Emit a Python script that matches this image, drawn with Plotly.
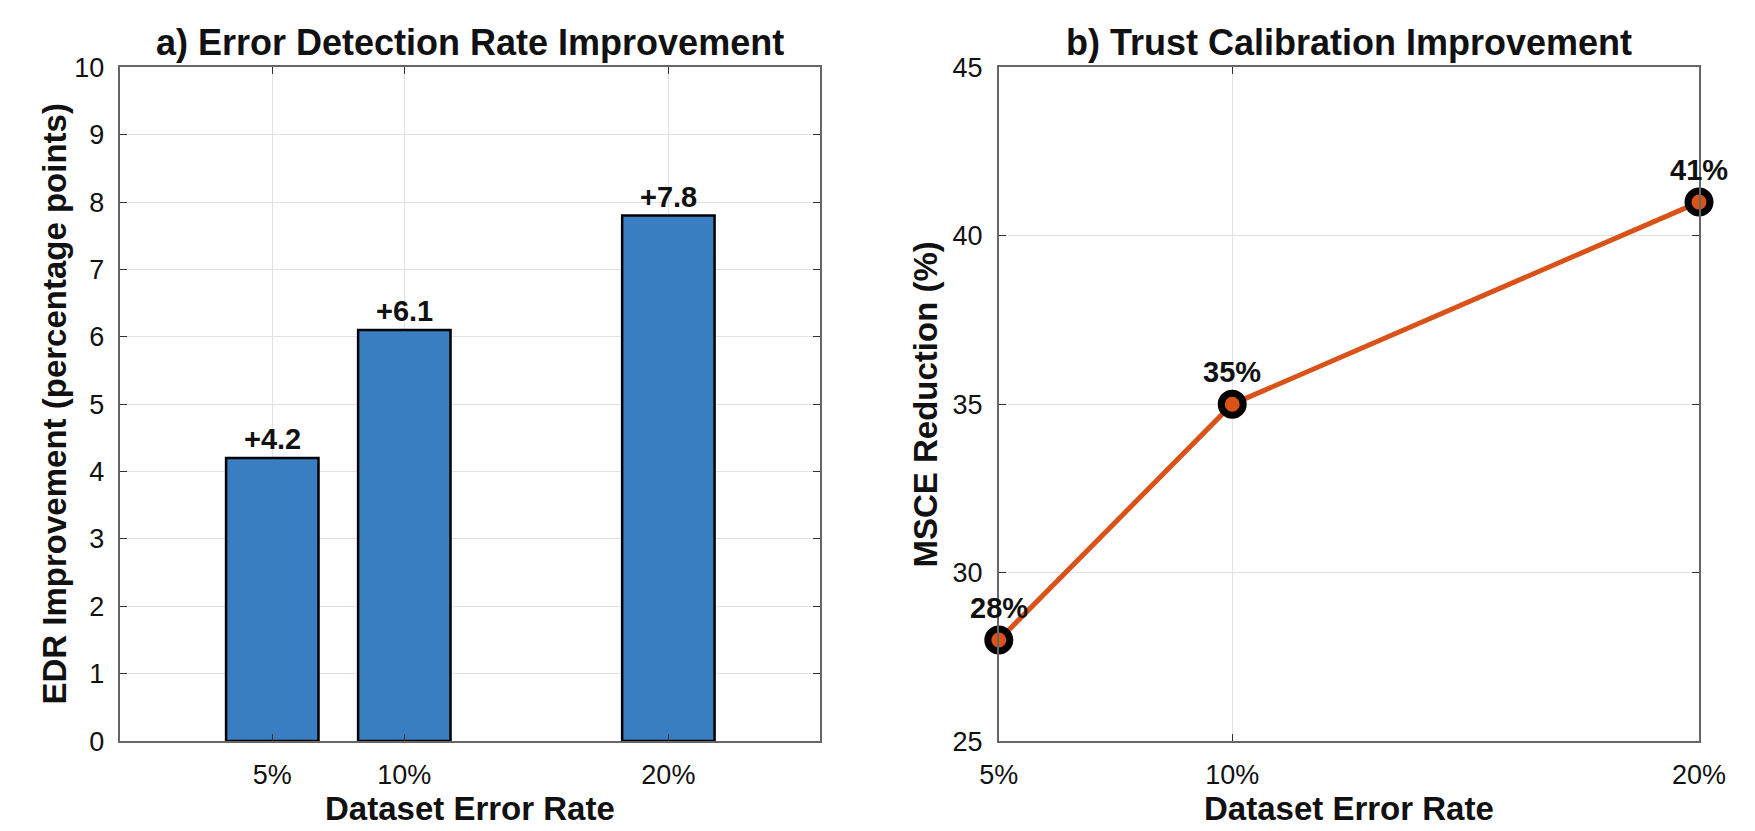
import plotly.graph_objects as go

# ---- data ----
error_rates = [5, 10, 20]
tick_labels = ["5%", "10%", "20%"]
edr_improvement = [4.2, 6.1, 7.8]
msce_reduction = [28, 35, 41]
edr_ticks = list(range(0, 11))
msce_ticks = [25, 30, 35, 40, 45]

title_a = "a) Error Detection Rate Improvement"
title_b = "b) Trust Calibration Improvement"
xlabel = "Dataset Error Rate"
ylabel_a = "EDR Improvement (percentage points)"
ylabel_b = "MSCE Reduction (%)"

W, H = 1755, 831
FONT = "Liberation Sans, Arial, Helvetica, sans-serif"
BAR_COLOR = "#3A7EC2"
LINE_COLOR = "#D95319"

# layout in pixels
ax1_l, ax1_r = 95, 814
ax2_l, ax2_r = 997.5, 1717
ax_t, ax_b = 46, 745


def fx(p):
    return p / W


def fy(p):
    return 1 - p / H


fig = go.Figure()
fig.add_trace(go.Bar(
    x=error_rates, y=edr_improvement, width=3.5,
    marker=dict(color=BAR_COLOR, line=dict(color="black", width=2.5)),
    xaxis="x", yaxis="y", showlegend=False, hoverinfo="skip",
))
fig.add_trace(go.Scatter(
    x=error_rates, y=msce_reduction, mode="lines+markers",
    line=dict(color=LINE_COLOR, width=5),
    marker=dict(size=22, color=LINE_COLOR, line=dict(color="black", width=7)),
    xaxis="x2", yaxis="y2", showlegend=False, cliponaxis=False, hoverinfo="skip",
))

common = dict(
    showline=True, linecolor="#666666", linewidth=1.5, mirror="ticks",
    ticks="inside", ticklen=7, tickcolor="#333333", tickwidth=1.2,
    showgrid=True, gridcolor="#E2E2E2", gridwidth=1, zeroline=False,
    tickfont=dict(family=FONT, size=27, color="#111111"),
    fixedrange=True,
)

fig.update_layout(
    width=W, height=H,
    margin=dict(l=0, r=0, t=0, b=0),
    paper_bgcolor="white", plot_bgcolor="white",
    xaxis=dict(domain=[fx(ax1_l), fx(ax1_r)], range=[-0.75, 25.75],
               tickvals=error_rates, ticktext=tick_labels, anchor="y",
               ticklabelstandoff=9, **common),
    yaxis=dict(domain=[fy(ax_b), fy(ax_t)], range=[0, 10],
               tickvals=edr_ticks, anchor="x", ticklabelstandoff=9, **common),
    xaxis2=dict(domain=[fx(ax2_l), fx(ax2_r)], range=[5, 20],
                tickvals=error_rates, ticktext=tick_labels, anchor="y2",
                ticklabelstandoff=9, **common),
    yaxis2=dict(domain=[fy(ax_b), fy(ax_t)], range=[25, 45],
                tickvals=msce_ticks, anchor="x2", ticklabelstandoff=9, **common),
)

annotations = []
bold = dict(family=FONT, color="#111111", weight="bold")

# titles and x labels
for txt, l, r in [(title_a, ax1_l, ax1_r), (title_b, ax2_l, ax2_r)]:
    annotations.append(dict(text=txt, xref="paper", yref="paper",
                            x=fx((l + r) / 2), y=fy(ax_t), xanchor="center",
                            yanchor="bottom", yshift=2, showarrow=False,
                            font=dict(size=36, **bold)))
    annotations.append(dict(text=xlabel, xref="paper", yref="paper",
                            x=fx((l + r) / 2), y=0, xanchor="center",
                            yanchor="bottom", yshift=-5, showarrow=False,
                            font=dict(size=33, **bold)))

# y labels
for txt, xc in [(ylabel_a, 27), (ylabel_b, 922)]:
    annotations.append(dict(text=txt, xref="paper", yref="paper",
                            x=fx(xc), y=fy((ax_t + ax_b) / 2), xanchor="center",
                            yanchor="middle", textangle=-90, showarrow=False,
                            font=dict(size=33, **bold)))

# bar value labels
for xv, yv in zip(error_rates, edr_improvement):
    annotations.append(dict(text=f"+{yv:.1f}", xref="x", yref="y", x=xv, y=yv,
                            xanchor="center", yanchor="bottom", yshift=1,
                            showarrow=False, font=dict(size=29, **bold)))

# line value labels
for xv, yv in zip(error_rates, msce_reduction):
    annotations.append(dict(text=f"{yv:.0f}%", xref="x2", yref="y2", x=xv, y=yv,
                            xanchor="center", yanchor="bottom", yshift=14,
                            showarrow=False, font=dict(size=29, **bold)))

fig.update_layout(annotations=annotations)
fig.write_html("out.html")
